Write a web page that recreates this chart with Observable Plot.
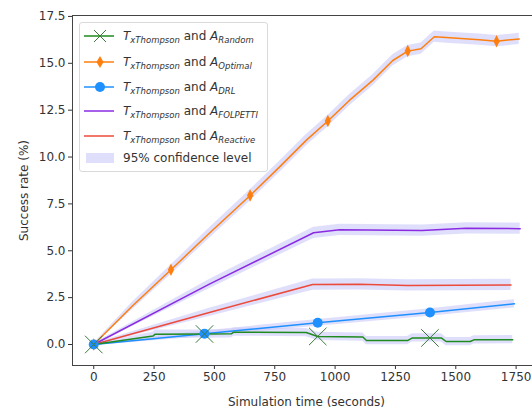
<!DOCTYPE html>
<html><head><meta charset="utf-8">
<script src="https://cdn.jsdelivr.net/npm/d3@7"></script>
<script src="https://cdn.jsdelivr.net/npm/@observablehq/plot@0.6"></script>
<style>
html,body{margin:0;padding:0;background:#fff;overflow:hidden;width:532px;height:410px;}
#wrap{position:relative;width:540px;height:410px;font-family:"DejaVu Sans",sans-serif;}
#legend{position:absolute;left:79px;top:22px;width:189px;height:150px;border:1px solid #dadada;border-radius:3px;background:rgba(255,255,255,0.85);box-sizing:border-box;}
.ent{position:absolute;left:0;height:20px;width:189px;}
.ent svg{position:absolute;left:3px;top:0;}
.ent .lab{position:absolute;left:43px;top:2px;font-size:12px;color:#333;white-space:nowrap;line-height:16px;}
.it{font-style:italic;}
.sub{font-style:italic;font-size:8.5px;position:relative;top:3px;}
</style></head>
<body><div id="wrap"></div>
<script>
// ---- data ----
const seriesNames = ["Random", "Optimal", "DRL", "FOLPETTI", "Reactive"];
const seriesColors = ["#1f8a1f", "#ff7f0e", "#1e90ff", "#8a2be2", "#ec4a3a"];

const tRandom = [0, 245, 255, 459, 570, 580, 880, 928, 1115, 1130, 1300, 1320, 1393, 1440, 1460, 1560, 1575, 1736];
const vRandom = [0, 0.45, 0.55, 0.56, 0.57, 0.66, 0.64, 0.43, 0.40, 0.21, 0.21, 0.35, 0.35, 0.35, 0.16, 0.16, 0.25, 0.26];
const cRandom = [0.05, 0.2, 0.22, 0.22, 0.22, 0.22, 0.22, 0.22, 0.22, 0.22, 0.22, 0.22, 0.22, 0.22, 0.22, 0.22, 0.22, 0.22];
const mRandom = [0, 459, 928, 1393];

const tOptimal = [0, 160, 320, 480, 648, 769, 880, 970, 1059, 1156, 1239, 1301, 1356, 1411, 1460, 1598, 1669, 1763];
const vOptimal = [0, 2.05, 3.99, 5.95, 7.95, 9.46, 10.89, 11.92, 13.02, 14.09, 15.15, 15.65, 15.78, 16.42, 16.37, 16.26, 16.18, 16.3];
const cOptimal = [0.05, 0.2, 0.25, 0.28, 0.3, 0.3, 0.3, 0.3, 0.3, 0.3, 0.3, 0.3, 0.3, 0.3, 0.3, 0.3, 0.3, 0.3];
const mOptimal = [0, 320, 648, 970, 1301, 1669];

const tDRL = [0, 459, 928, 1393, 1743];
const vDRL = [0, 0.57, 1.16, 1.71, 2.17];
const cDRL = [0.05, 0.15, 0.18, 0.2, 0.22];
const mDRL = [0, 459, 928, 1393];

const tFolpetti = [0, 479, 911, 1019, 1360, 1543, 1767];
const vFolpetti = [0, 3.22, 5.96, 6.12, 6.08, 6.2, 6.18];
const cFolpetti = [0.05, 0.25, 0.3, 0.3, 0.3, 0.3, 0.3];

const tReactive = [0, 479, 907, 1100, 1300, 1729];
const vReactive = [0, 1.71, 3.2, 3.21, 3.15, 3.18];
const cReactive = [0.05, 0.22, 0.3, 0.3, 0.3, 0.3];

const xTicks = [0, 250, 500, 750, 1000, 1250, 1500, 1750];
const yTicks = [0, 2.5, 5, 7.5, 10, 12.5, 15, 17.5];

// ---- build tables ----
function rows(name, t, v, c) { return t.map((x, i) => ({s: name, t: x, v: v[i], lo: v[i] - c[i], hi: v[i] + c[i]})); }
function marks(name, t, v, m) { return m.map(x => ({s: name, t: x, v: v[t.indexOf(x)]})); }
const rR = rows("Random", tRandom, vRandom, cRandom);
const rO = rows("Optimal", tOptimal, vOptimal, cOptimal);
const rD = rows("DRL", tDRL, vDRL, cDRL);
const rF = rows("FOLPETTI", tFolpetti, vFolpetti, cFolpetti);
const rX = rows("Reactive", tReactive, vReactive, cReactive);
const all = [...rR, ...rO, ...rD, ...rF, ...rX];
const mkR = marks("Random", tRandom, vRandom, mRandom);
const mkO = marks("Optimal", tOptimal, vOptimal, mOptimal);
const mkD = marks("DRL", tDRL, vDRL, mDRL);

const thinDiamond = {draw(ctx, size) { const r = Math.sqrt(size / Math.PI); ctx.moveTo(0, -r * 1.25); ctx.lineTo(r * 0.62, 0); ctx.lineTo(0, r * 1.25); ctx.lineTo(-r * 0.62, 0); ctx.closePath(); }};

const color = {domain: seriesNames, range: seriesColors};

const chart = Plot.plot({
  width: 540, height: 410,
  marginLeft: 72, marginRight: 0, marginTop: 15, marginBottom: 45,
  style: {fontFamily: "DejaVu Sans, sans-serif", fontSize: "12px", color: "#333", background: "#fff"},
  x: {domain: [-88, 1851]},
  y: {domain: [-1.12, 17.55]},
  color,
  marks: [
    Plot.areaY(all, {x: "t", y1: "lo", y2: "hi", z: "s", fill: "#c4c4fa", fillOpacity: 0.55, curve: "linear"}),
    Plot.line(rF, {x: "t", y: "v", stroke: seriesColors[3], strokeWidth: 1.5}),
    Plot.line(rX, {x: "t", y: "v", stroke: seriesColors[4], strokeWidth: 1.5}),
    Plot.line(rO, {x: "t", y: "v", stroke: seriesColors[1], strokeWidth: 1.5}),
    Plot.line(rD, {x: "t", y: "v", stroke: seriesColors[2], strokeWidth: 1.5}),
    Plot.line(rR, {x: "t", y: "v", stroke: seriesColors[0], strokeWidth: 1.5}),
    Plot.dot(mkO, {x: "t", y: "v", symbol: () => thinDiamond, r: 5, fill: seriesColors[1], stroke: null}),
    Plot.dot(mkD, {x: "t", y: "v", r: 5, fill: seriesColors[2], stroke: null}),
    Plot.dot(mkR, {x: "t", y: "v", symbol: "times", r: 8, stroke: "#3a7a3a", strokeWidth: 1, fill: "none"}),
    Plot.axisX({ticks: xTicks, tickSize: 4, tickPadding: 3, tickFormat: d3.format("d"), label: "Simulation time (seconds)", labelAnchor: "center", labelArrow: "none", labelOffset: 40, fontSize: 12}),
    Plot.axisY({ticks: yTicks, tickSize: 4, tickPadding: 3, tickFormat: d3.format(".1f"), label: "Success rate (%)", labelAnchor: "center", labelArrow: "none", labelOffset: 53, fontSize: 12}),
    Plot.frame({stroke: "#444", strokeWidth: 1})
  ]
});
const wrap = document.getElementById("wrap");
wrap.appendChild(chart);

// ---- legend ----
const legendItems = [
  {sub: "Random", color: seriesColors[0], kind: "x"},
  {sub: "Optimal", color: seriesColors[1], kind: "d"},
  {sub: "DRL", color: seriesColors[2], kind: "o"},
  {sub: "FOLPETTI", color: seriesColors[3], kind: "-"},
  {sub: "Reactive", color: seriesColors[4], kind: "-"}
];
const centers = [13, 39, 64, 88, 113];
const lg = document.createElement("div"); lg.id = "legend";
legendItems.forEach((it, i) => {
  const e = document.createElement("div"); e.className = "ent"; e.style.top = (centers[i] - 10) + "px";
  let mk = "";
  if (it.kind === "x") mk = `<path d="M11,4 L23,16 M23,4 L11,16" stroke="#3a7a3a" stroke-width="1" fill="none"/>`;
  if (it.kind === "d") mk = `<path d="M17,4 L20.5,10 L17,16 L13.5,10 Z" fill="${it.color}"/>`;
  if (it.kind === "o") mk = `<circle cx="17" cy="10" r="5" fill="${it.color}"/>`;
  e.innerHTML = `<svg width="34" height="20"><line x1="1" y1="10" x2="31" y2="10" stroke="${it.color}" stroke-width="1.5"/>${mk}</svg>` +
    `<span class="lab"><span class="it">T</span><span class="sub">xThompson</span> and <span class="it">A</span><span class="sub">${it.sub}</span></span>`;
  lg.appendChild(e);
});
const band = document.createElement("div"); band.className = "ent"; band.style.top = (135 - 10) + "px";
band.innerHTML = `<svg width="34" height="20"><rect x="3" y="5" width="28" height="10" fill="#c4c4fa" fill-opacity="0.55"/></svg><span class="lab">95% confidence level</span>`;
lg.appendChild(band);
wrap.appendChild(lg);
</script>
</body></html>
